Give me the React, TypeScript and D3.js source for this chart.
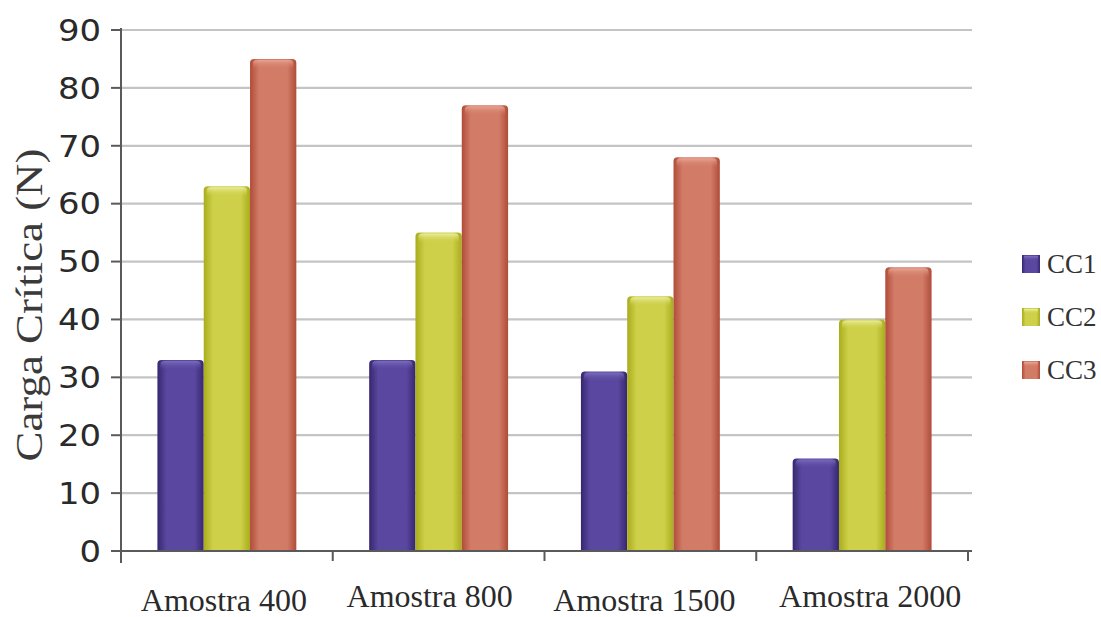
import React from "react";
import * as d3 from "d3";

const categories = ["Amostra 400", "Amostra 800", "Amostra 1500", "Amostra 2000"];
const seriesNames = ["CC1", "CC2", "CC3"];
const cc1 = [33, 33, 31, 16];
const cc2 = [63, 55, 44, 40];
const cc3 = [85, 77, 68, 49];
const yTicks = [0, 10, 20, 30, 40, 50, 60, 70, 80, 90];

const seriesValues = [cc1, cc2, cc3];

const palette = [
  { edge: "#36276f", mid: "#5a48a0", top: "#8070c0" },
  { edge: "#a8ac1c", mid: "#cdd048", top: "#eef0a8" },
  { edge: "#b04c38", mid: "#d27c68", top: "#eaa896" },
];

export default function App() {
  const width = 1101;
  const height = 617;
  const left = 121;
  const right = 968;
  const top = 30;
  const bottom = 551;

  const y = d3.scaleLinear().domain([0, 90]).range([bottom, top]);
  const x0 = d3.scaleBand<string>().domain(categories).range([left, right]);
  const bw = x0.bandwidth();
  const pad = bw * 0.172;
  const x1 = d3.scaleBand<string>().domain(seriesNames).range([pad, bw - pad]);
  const barW = x1.bandwidth();

  // category labels sit slightly staggered under the axis
  const labelShift = [-3, -9, -6, 8];
  const labelBase = [611, 607, 611, 607];

  const barPath = (x: number, y0: number, w: number, h: number) => {
    const r = 4;
    return `M${x},${y0 + h} L${x},${y0 + r} Q${x},${y0} ${x + r},${y0} L${x + w - r},${y0} Q${x + w},${y0} ${x + w},${y0 + r} L${x + w},${y0 + h} Z`;
  };

  return (
    <svg width={width} height={height} style={{ position: "absolute", left: 0, top: 0 }}>
      <defs>
        {palette.map((p, i) => (
          <linearGradient key={i} id={`g${i}`} x1="0" x2="1" y1="0" y2="0">
            <stop offset="0" stopColor={p.edge} />
            <stop offset="0.2" stopColor={p.mid} />
            <stop offset="0.8" stopColor={p.mid} />
            <stop offset="1" stopColor={p.edge} />
          </linearGradient>
        ))}
        {palette.map((p, i) => (
          <linearGradient key={i} id={`t${i}`} x1="0" x2="0" y1="0" y2="1">
            <stop offset="0" stopColor={p.top} stopOpacity="1" />
            <stop offset="1" stopColor={p.mid} stopOpacity="0" />
          </linearGradient>
        ))}
        <filter id="soft" x="-5%" y="-5%" width="110%" height="110%">
          <feGaussianBlur stdDeviation="0.6" />
        </filter>
      </defs>
      <rect width={width} height={height} fill="#ffffff" />

      {/* horizontal gridlines */}
      <g filter="url(#soft)">
        {yTicks.slice(1).map((t) => (
          <line key={t} x1={left} x2={972} y1={y(t)} y2={y(t)} stroke="#c4c4c4" strokeWidth={2.2} />
        ))}
      </g>

      {/* bars */}
      {categories.map((c, ci) => (
        <g key={c} transform={`translate(${x0(c)},0)`}>
          {seriesNames.map((s, si) => {
            const v = seriesValues[si][ci];
            const bx = x1(s) as number;
            const by = y(v);
            const h = bottom - by;
            return (
              <g key={s}>
                <path d={barPath(bx, by, barW, h)} fill={`url(#g${si})`} />
                <path
                  d={barPath(bx + 3, by + 1, barW - 6, 9)}
                  fill={`url(#t${si})`}
                  opacity={0.9}
                />
              </g>
            );
          })}
        </g>
      ))}

      {/* axes */}
      <g stroke="#5a5a5a" strokeWidth={2} filter="url(#soft)">
        <line x1={left} x2={left} y1={top - 2} y2={bottom + 12} />
        <line x1={left - 10} x2={972} y1={bottom} y2={bottom} />
        {yTicks.map((t) => (
          <line key={t} x1={left - 10} x2={left} y1={y(t)} y2={y(t)} />
        ))}
        {categories.map((c) => (
          <line key={c} x1={(x0(c) as number) + bw} x2={(x0(c) as number) + bw} y1={bottom} y2={bottom + 10} />
        ))}
      </g>

      {/* y tick labels */}
      {yTicks.map((t) => (
        <text
          key={t}
          transform={`translate(101,${y(t)}) scale(1.13,1)`}
          dy="0.36em"
          textAnchor="end"
          fontFamily="'DejaVu Sans', sans-serif"
          fontSize={30}
          fill="#2a2a2a"
        >
          {t}
        </text>
      ))}

      {/* y title */}
      <text
        transform={`translate(42,305) rotate(-90) scale(1.18,1)`}
        textAnchor="middle"
        fontFamily="'Liberation Serif', serif"
        fontSize={38}
        fill="#3a3a3a"
      >
        Carga Crítica (N)
      </text>

      {/* x labels */}
      {categories.map((c, i) => (
        <text
          key={c}
          x={(x0(c) as number) + bw / 2 + labelShift[i]}
          y={labelBase[i]}
          textAnchor="middle"
          fontFamily="'Liberation Serif', serif"
          fontSize={32}
          fill="#2a2a2a"
        >
          {c}
        </text>
      ))}

      {/* legend */}
      {seriesNames.map((s, i) => {
        const ly = 264 + i * 53;
        return (
          <g key={s}>
            <rect x={1022} y={ly - 9} width={18} height={18} fill={`url(#g${i})`} />
            <rect x={1024} y={ly - 8} width={14} height={5} fill={`url(#t${i})`} />
            <text x={1047} y={ly} dy="0.35em" fontFamily="'Liberation Serif', serif" fontSize={27} fill="#333">
              {s}
            </text>
          </g>
        );
      })}
    </svg>
  );
}
